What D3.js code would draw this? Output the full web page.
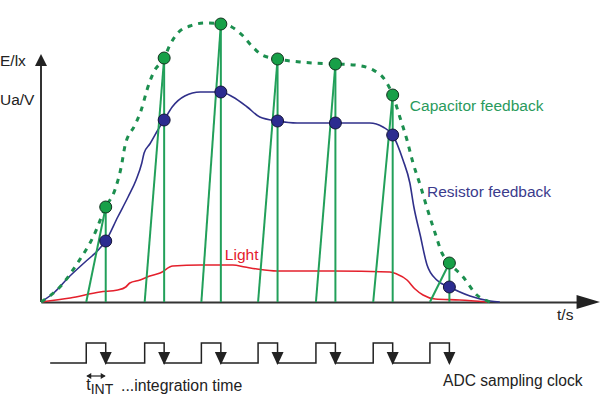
<!DOCTYPE html>
<html>
<head>
<meta charset="utf-8">
<script src="https://cdn.jsdelivr.net/npm/d3@7"></script>
<style>
  body { margin: 0; background: #fff; }
  svg { display: block; font-family: "Liberation Sans", Arial, sans-serif; }
</style>
</head>
<body>
<svg id="chart" width="600" height="397"></svg>
<script>
// ADC sampling instants (falling clock edges) and the integration time
const sampleTimes = [1.13, 2.15, 3.14, 4.13, 5.14, 6.14, 7.13];
const tInt = 0.34;
const clockStart = 0.16;

// output values held at each sample
const capacitorSamples = [3.8, 9.76, 11.12, 9.72, 9.52, 8.28, 1.56];
const resistorSamples = [2.44, 7.28, 8.4, 7.24, 7.16, 6.68, 0.6];

// curves as [t, value]
const capacitorCurve = [
  [0, 0], [0.33, 0.6], [0.65, 1.6], [0.91, 2.6], [1.13, 3.8], [1.29, 4.48],
  [1.40, 5.4], [1.47, 6.28], [1.64, 7.08], [1.75, 7.68], [1.85, 8.48],
  [1.96, 9.16], [2.15, 9.76], [2.25, 10.28], [2.39, 10.76], [2.60, 11.04],
  [2.86, 11.16], [3.14, 11.12], [3.33, 11.0], [3.51, 10.68], [3.68, 10.24],
  [3.86, 9.88], [4.13, 9.72], [4.52, 9.6], [5.14, 9.52], [5.48, 9.48],
  [5.80, 9.28], [6.04, 8.76], [6.14, 8.28], [6.27, 7.36], [6.39, 6.48],
  [6.49, 5.6], [6.62, 4.68], [6.74, 3.76], [6.88, 2.76], [7.00, 1.96],
  [7.13, 1.56], [7.37, 1.0], [7.61, 0.28], [7.84, 0]
];
const resistorCurve = [
  [0, 0], [0.24, 0.4], [0.47, 0.96], [0.77, 1.6], [1.0, 2.08], [1.13, 2.44],
  [1.34, 3.4], [1.52, 4.2], [1.66, 4.88], [1.76, 5.56], [1.80, 5.96],
  [1.90, 6.32], [2.04, 6.88], [2.15, 7.28], [2.29, 7.8], [2.51, 8.24],
  [2.78, 8.4], [3.14, 8.4], [3.35, 8.2], [3.60, 7.8], [3.82, 7.4],
  [4.13, 7.24], [4.47, 7.16], [5.14, 7.16], [5.74, 7.16], [5.97, 7.0],
  [6.14, 6.68], [6.32, 5.68], [6.44, 4.76], [6.51, 3.8], [6.62, 2.68],
  [6.74, 1.48], [6.91, 0.88], [7.13, 0.6], [7.49, 0.24], [7.84, 0.04], [8.01, 0]
];
const lightCurve = [
  [0, 0], [0.51, 0.16], [1.03, 0.4], [1.34, 0.48], [1.48, 0.6], [1.55, 0.76],
  [1.73, 0.88], [1.90, 1.04], [2.08, 1.16], [2.30, 1.44], [2.78, 1.48],
  [3.35, 1.48], [3.56, 1.4], [3.77, 1.32], [4.12, 1.24], [5.10, 1.24],
  [6.09, 1.2], [6.21, 1.12], [6.39, 0.88], [6.53, 0.52], [6.67, 0.28],
  [6.88, 0.12], [7.31, 0.08], [7.79, 0]
];

const seriesLabels = ['Capacitor feedback', 'Resistor feedback', 'Light'];
const axisLabels = ['E/lx', 'Ua/V', 't/s'];
const clockLabel = 'ADC sampling clock';

const green = '#22a05a';
const greenDash = '#1c8f4f';
const blue = '#30308a';
const red = '#e4202c';
const ink = '#222';

const svg = d3.select('#chart');

const x = d3.scaleLinear().domain([0, 9.55]).range([41, 588]);
const y = d3.scaleLinear().domain([0, 10]).range([302, 52]);
const clockY = d3.scaleLinear().domain([0, 1]).range([363, 343]);

// axes
svg.append('g')
    .attr('transform', 'translate(0,' + y(0) + ')')
    .call(d3.axisBottom(x).ticks(0).tickSizeOuter(0))
    .call(g => g.select('.domain').attr('stroke', '#333').attr('stroke-width', 2));

svg.append('line')
    .attr('x1', x(0)).attr('x2', x(0))
    .attr('y1', y(0)).attr('y2', y(9.5))
    .attr('stroke', '#333').attr('stroke-width', 2);

svg.append('path')
    .attr('d', 'M' + x(0) + ',' + y(9.92) + 'L' + (x(0) - 6) + ',' + y(9.44) + 'L' + (x(0) + 6) + ',' + y(9.44) + 'Z')
    .attr('fill', ink);
svg.append('path')
    .attr('d', 'M600,' + y(0) + 'L' + x(9.35) + ',' + (y(0) - 7) + 'L' + x(9.35) + ',' + (y(0) + 7) + 'Z')
    .attr('fill', ink);

const line = d3.line()
    .x(d => x(d[0]))
    .y(d => y(d[1]))
    .curve(d3.curveMonotoneX);

svg.append('path')
    .attr('d', line(lightCurve))
    .attr('fill', 'none').attr('stroke', red).attr('stroke-width', 1.6);

svg.append('path')
    .attr('d', line(resistorCurve))
    .attr('fill', 'none').attr('stroke', blue).attr('stroke-width', 1.6);

svg.append('path')
    .attr('d', line(capacitorCurve))
    .attr('fill', 'none').attr('stroke', greenDash)
    .attr('stroke-width', 3).attr('stroke-dasharray', '5,6');

// integration ramps and hold lines
const ramps = svg.append('g').attr('stroke', green).attr('stroke-width', 2);
sampleTimes.forEach((s, i) => {
    ramps.append('line')
        .attr('x1', x(s - tInt)).attr('y1', y(0))
        .attr('x2', x(s)).attr('y2', y(capacitorSamples[i]));
    ramps.append('line')
        .attr('x1', x(s)).attr('y1', y(capacitorSamples[i]))
        .attr('x2', x(s)).attr('y2', y(0));
});

svg.append('g').selectAll('circle')
    .data(sampleTimes)
    .enter().append('circle')
    .attr('cx', d => x(d))
    .attr('cy', (d, i) => y(resistorSamples[i]))
    .attr('r', 6)
    .attr('fill', '#2c2c90').attr('stroke', '#15153a').attr('stroke-width', 1);

svg.append('g').selectAll('circle')
    .data(sampleTimes)
    .enter().append('circle')
    .attr('cx', d => x(d))
    .attr('cy', (d, i) => y(capacitorSamples[i]))
    .attr('r', 6)
    .attr('fill', '#17a048').attr('stroke', '#12331f').attr('stroke-width', 1);

// series labels
svg.append('text').attr('x', x(6.44)).attr('y', y(7.64))
    .attr('font-size', 15.5).attr('fill', '#2a9a5c').text(seriesLabels[0]);
svg.append('text').attr('x', x(6.74)).attr('y', y(4.2))
    .attr('font-size', 15.5).attr('fill', '#3b3b8c').text(seriesLabels[1]);
svg.append('text').attr('x', x(3.21)).attr('y', y(1.68))
    .attr('font-size', 15.5).attr('fill', red).text(seriesLabels[2]);

// axis titles
svg.append('text').attr('x', 0).attr('y', 66).attr('font-size', 15.5).attr('fill', ink).text(axisLabels[0]);
svg.append('text').attr('x', 0).attr('y', 105).attr('font-size', 15.5).attr('fill', ink).text(axisLabels[1]);
svg.append('text').attr('x', x(9.01)).attr('y', 320).attr('font-size', 15.5).attr('fill', ink).text(axisLabels[2]);

// ADC clock
const clockPts = [[clockStart, 0]];
sampleTimes.forEach(s => {
    clockPts.push([s - tInt, 0], [s - tInt, 1], [s, 1], [s, 0]);
});
const clockLine = d3.line().x(d => x(d[0])).y(d => clockY(d[1]));
svg.append('path')
    .attr('d', clockLine(clockPts))
    .attr('fill', 'none').attr('stroke', ink).attr('stroke-width', 1.5);

svg.append('g').selectAll('path')
    .data(sampleTimes)
    .enter().append('path')
    .attr('d', d => 'M' + (x(d) - 6) + ',' + clockY(0.55) + 'L' + (x(d) + 6) + ',' + clockY(0.55) +
        'L' + x(d) + ',' + (clockY(0) + 2) + 'Z')
    .attr('fill', ink);

// t_INT marker
const ax0 = x(sampleTimes[0] - tInt), ax1 = x(sampleTimes[0]);
svg.append('line').attr('x1', ax0 + 1).attr('x2', ax1 - 1).attr('y1', 376).attr('y2', 376)
    .attr('stroke', ink).attr('stroke-width', 1.2);
svg.append('path')
    .attr('d', 'M' + ax0 + ',376L' + (ax0 + 5) + ',373L' + (ax0 + 5) + ',379Z' +
        'M' + ax1 + ',376L' + (ax1 - 5) + ',373L' + (ax1 - 5) + ',379Z')
    .attr('fill', ink);

const tText = svg.append('text').attr('x', ax0).attr('y', 390).attr('font-size', 16).attr('fill', ink);
tText.append('tspan').text('t');
tText.append('tspan').attr('dy', 4).attr('font-size', 14).text('INT');
svg.append('text').attr('x', 121).attr('y', 391).attr('font-size', 15.8).attr('fill', ink)
    .text('...integration time');

svg.append('text').attr('x', 443).attr('y', 386).attr('font-size', 15.6).attr('fill', ink)
    .text(clockLabel);
</script>
</body>
</html>
